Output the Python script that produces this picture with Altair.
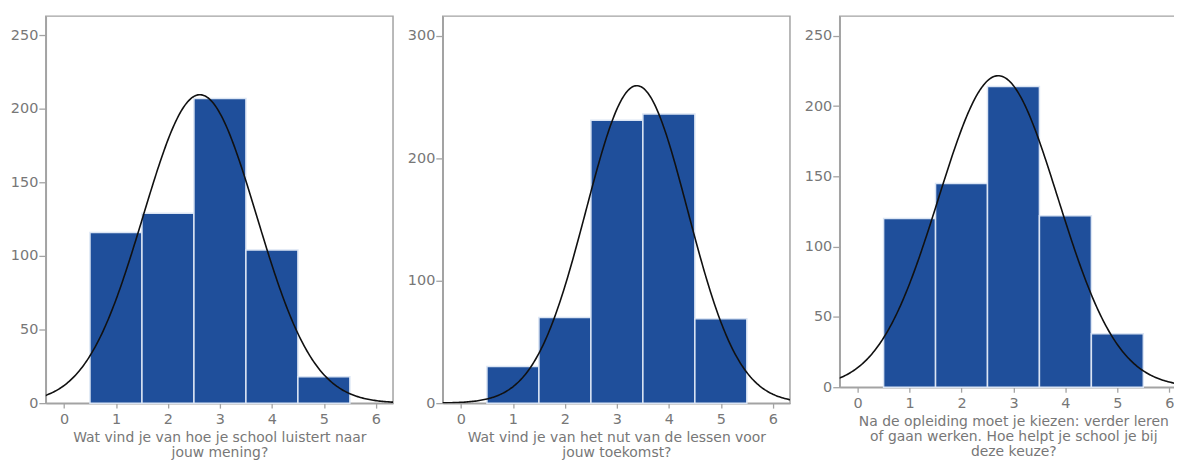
import altair as alt
import pandas as pd
import numpy as np

# ---- data ----
categories = [1, 2, 3, 4, 5]
counts_luistert = [116, 129, 207, 104, 18]
counts_nut = [30, 70, 231, 236, 69]
counts_keuze = [120, 145, 214, 122, 38]

x_ticks = [0, 1, 2, 3, 4, 5, 6]
y_ticks_1 = [0, 50, 100, 150, 200, 250]
y_ticks_2 = [0, 100, 200, 300]
y_ticks_3 = [0, 50, 100, 150, 200, 250]

title_1 = ["Wat vind je van hoe je school luistert naar", "jouw mening?"]
title_2 = ["Wat vind je van het nut van de lessen voor", "jouw toekomst?"]
title_3 = ["Na de opleiding moet je kiezen: verder leren",
           "of gaan werken. Hoe helpt je school je bij", "deze keuze?"]

y_max = [263, 316, 264]
x_domains = [[-0.35, 6.33], [-0.35, 6.33], [-0.345, 6.34]]

FONT = "DejaVu Sans, Verdana, sans-serif"
BAR_COLOR = "#1f4f9b"
GRAY_TXT = "#777777"
GRAY_LINE = "#a3a3a3"


def panel(counts, title, ymax, yticks, xdom, w, h):
    bars = pd.DataFrame({"value": categories, "count": counts})
    bars["lo"] = bars["value"] - 0.5
    bars["hi"] = bars["value"] + 0.5
    v = np.array(categories, dtype=float)
    c = np.array(counts, dtype=float)
    n = c.sum()
    mean = (v * c).sum() / n
    sd = np.sqrt((c * (v - mean) ** 2).sum() / (n - 1))
    xs = np.linspace(-0.5, 6.5, 281)
    ys = n / (sd * np.sqrt(2 * np.pi)) * np.exp(-0.5 * ((xs - mean) / sd) ** 2)
    curve = pd.DataFrame({"x": xs, "y": ys})

    xscale = alt.Scale(domain=xdom, nice=False, zero=False)
    yscale = alt.Scale(domain=[0, ymax], nice=False)

    b = alt.Chart(bars).mark_rect(
        color=BAR_COLOR, stroke="#dbe5f4", strokeWidth=1.5
    ).encode(
        x=alt.X("lo:Q", scale=xscale,
                axis=alt.Axis(values=x_ticks, format="d", title=title)),
        x2="hi:Q",
        y=alt.Y("count:Q", scale=yscale,
                axis=alt.Axis(values=yticks, format="d", title=None)),
        y2=alt.datum(0),
    )
    l = alt.Chart(curve).mark_line(
        color="#111111", strokeWidth=1.6, clip=True
    ).encode(x="x:Q", y="y:Q")
    return alt.layer(b, l).properties(width=w, height=h)


chart = alt.hconcat(
    panel(counts_luistert, title_1, y_max[0], y_ticks_1, x_domains[0], 349, 389),
    panel(counts_nut, title_2, y_max[1], y_ticks_2, x_domains[1], 349, 389),
    panel(counts_keuze, title_3, y_max[2], y_ticks_3, x_domains[2], 349, 373),
    spacing=11,
).properties(
    padding={"left": 0, "top": 6, "right": -14, "bottom": 0}
).configure_view(
    stroke=GRAY_LINE, strokeWidth=1.5
).configure_axis(
    grid=False,
    labelFont=FONT, labelFontSize=14.5, labelColor=GRAY_TXT,
    titleFont=FONT, titleFontSize=14, titleColor=GRAY_TXT,
    titleFontWeight="normal", titleLineHeight=15,
    domainColor=GRAY_LINE, domainWidth=1.5,
    tickColor=GRAY_LINE, tickWidth=1.3,
).configure_axisY(
    minExtent=37, maxExtent=37, tickSize=7, labelPadding=1,
).configure_axisX(
    tickSize=5, labelPadding=4, titlePadding=5,
)

chart.save("out.html", embed_options={"renderer": "svg", "actions": False})
